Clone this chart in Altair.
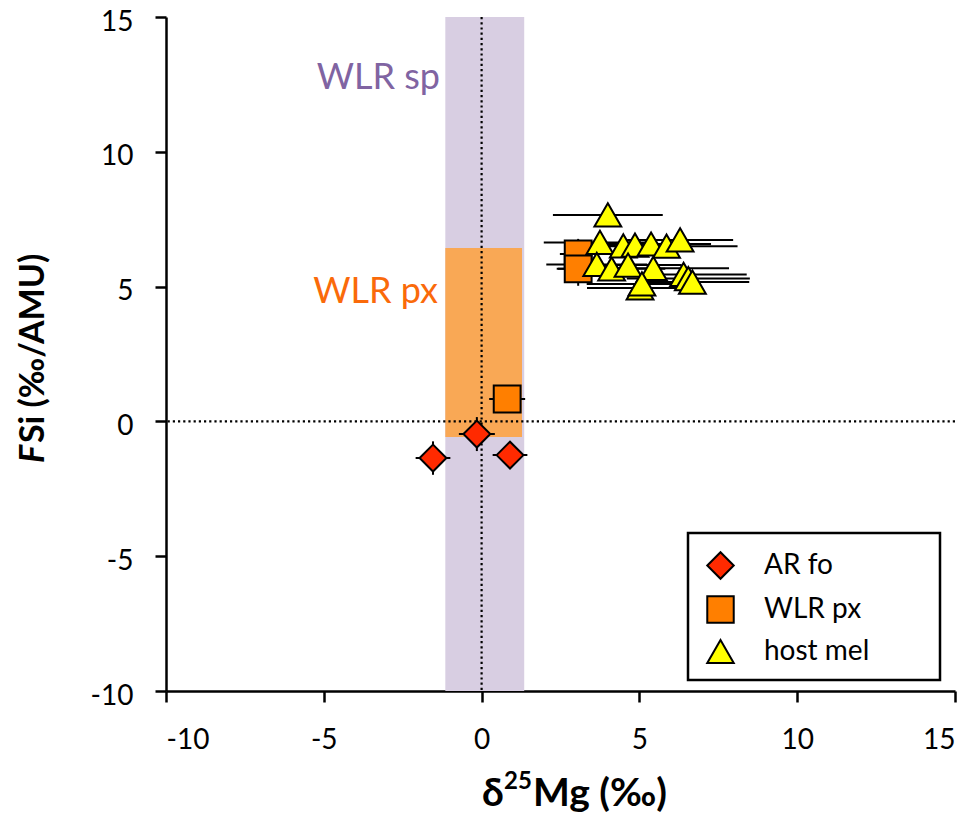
import altair as alt
import pandas as pd

# ---- data ----
series_names = ["AR fo", "WLR px", "host mel"]

ar_x = [-1.54, -0.15, 0.90]
ar_y = [-1.36, -0.47, -1.25]
ar_xerr = [0.55, 0.57, 0.55]
ar_yerr = [0.62, 0.63, 0.35]

px_x = [0.81, 3.06, 3.06]
px_y = [0.83, 6.21, 5.66]
px_xerr = [0.57, 0.58, 0.68]
px_yerr = [0.30, 0.56, 0.63]

mel_x = [4.00, 3.75, 3.65, 4.12, 4.49, 4.86, 4.64, 5.37, 5.86, 6.29, 5.44, 5.02, 5.08, 6.40, 6.55, 6.68]
mel_y = [7.66, 6.64, 5.82, 5.66, 6.51, 6.54, 5.80, 6.58, 6.50, 6.73, 5.68, 4.95, 5.10, 5.45, 5.30, 5.17]
mel_xerr = [1.74, 1.78, 1.60, 1.70, 1.80, 1.75, 1.70, 1.90, 2.25, 1.68, 2.40, 1.68, 1.75, 2.00, 1.95, 1.80]
mel_yerr = [0.35] * 16

band_names = ["WLR sp", "WLR px"]
band_x0 = [-1.15, -1.15]
band_x1 = [1.35, 1.28]
band_y0 = [-10.0, -0.58]
band_y1 = [15.0, 6.43]
band_colors = ["#D8CEE2", "#F9A855"]

label_text = ["WLR sp", "WLR px"]
label_x = [-1.32, -1.38]
label_y = [12.74, 4.80]
label_colors = ["#8064A2", "#FA6A0A"]

marker_shapes = ["diamond", "square", "triangle-up"]
marker_fills = ["#FF2A00", "#FF7F00", "#FFFF00"]
marker_strokes = ["black", "black", "black"]

ticks = [-10, -5, 0, 5, 10, 15]

FONT = "Lato"

# ---- tables ----
rows = []
for name, xs_, ys_, xe, ye in [
    ("AR fo", ar_x, ar_y, ar_xerr, ar_yerr),
    ("WLR px", px_x, px_y, px_xerr, px_yerr),
    ("host mel", mel_x, mel_y, mel_xerr, mel_yerr),
]:
    for i in range(len(xs_)):
        rows.append({"series": name, "x": xs_[i], "y": ys_[i], "xerr": xe[i], "yerr": ye[i], "order": len(rows)})
pts = pd.DataFrame(rows)

bands = pd.DataFrame({"name": band_names, "x0": band_x0, "x1": band_x1,
                      "y0": band_y0, "y1": band_y1, "color": band_colors})
labels = pd.DataFrame({"text": label_text, "x": label_x, "y": label_y, "color": label_colors})
zero = pd.DataFrame({"v": [0]})

xs = alt.Scale(domain=[-10, 15], nice=False, zero=False)
ys = alt.Scale(domain=[-10, 15], nice=False, zero=False)

axis_common = dict(values=ticks, grid=False, domainColor="black", domainWidth=2.5,
                   tickColor="black", tickWidth=2.5, tickSize=11,
                   labelFont=FONT, labelFontSize=28, labelColor="black", title=None,
                   labelExpr="'' + datum.value")

band_layer = alt.Chart(bands).mark_rect().encode(
    x=alt.X("x0:Q", scale=xs, axis=alt.Axis(**axis_common, labelPadding=24)),
    x2="x1:Q",
    y=alt.Y("y0:Q", scale=ys, axis=alt.Axis(**axis_common, labelPadding=22, labelOffset=5)),
    y2="y1:Q",
    color=alt.Color("color:N", scale=None),
)

vline = alt.Chart(zero).mark_rule(color="black", strokeWidth=2.2, strokeDash=[2.2, 3]).encode(
    x=alt.X("v:Q", scale=xs))
hline = alt.Chart(zero).mark_rule(color="black", strokeWidth=2.2, strokeDash=[2.2, 3]).encode(
    y=alt.Y("v:Q", scale=ys))

text_layer = alt.Chart(labels).mark_text(font=FONT, fontSize=36, align="right", baseline="middle").encode(
    x=alt.X("x:Q", scale=xs), y=alt.Y("y:Q", scale=ys), text="text:N",
    color=alt.Color("color:N", scale=None))

legend_box = alt.Chart(zero).mark_rect(fill="white", stroke="black", strokeWidth=2.5).encode(
    x=alt.value(522), x2=alt.value(774), y=alt.value(516), y2=alt.value(663))

base = alt.Chart(pts).transform_calculate(
    xlo="datum.x - datum.xerr", xhi="datum.x + datum.xerr",
    ylo="datum.y - datum.yerr", yhi="datum.y + datum.yerr")

herr = base.mark_rule(color="black", strokeWidth=2).encode(
    x=alt.X("xlo:Q", scale=xs), x2="xhi:Q", y=alt.Y("y:Q", scale=ys))
verr = base.mark_rule(color="black", strokeWidth=2).encode(
    x=alt.X("x:Q", scale=xs), y=alt.Y("ylo:Q", scale=ys), y2="yhi:Q")

leg = alt.Legend(orient="none", legendX=540, legendY=534, title=None,
                 labelFont=FONT, labelFontSize=28, labelColor="black",
                 symbolSize=700, symbolStrokeWidth=2,
                 labelOffset=29, rowPadding=9, padding=0)

points = base.mark_point(filled=True, strokeWidth=2, size=720, opacity=1).encode(
    x=alt.X("x:Q", scale=xs), y=alt.Y("y:Q", scale=ys),
    shape=alt.Shape("series:N", scale=alt.Scale(domain=series_names, range=marker_shapes),
                    sort=series_names, legend=leg),
    fill=alt.Fill("series:N", scale=alt.Scale(domain=series_names, range=marker_fills),
                  sort=series_names, legend=leg),
    stroke=alt.Stroke("series:N", scale=alt.Scale(domain=series_names, range=marker_strokes),
                      sort=series_names, legend=leg),
    order=alt.Order("order:Q"),
)

# axis titles as text so that parts can be styled (italic F, superscript 25)
ytitle_F = alt.Chart(zero).mark_text(text="F", font=FONT, fontSize=34, fontWeight="bold",
                                     fontStyle="italic", angle=270, align="left", baseline="middle",
                                     color="black").encode(x=alt.value(-132), y=alt.value(446))
ytitle_rest = alt.Chart(zero).mark_text(text="Si (‰/AMU)", font=FONT, fontSize=34, fontWeight="bold",
                                        angle=270, align="left", baseline="middle",
                                        color="black").encode(x=alt.value(-132), y=alt.value(426))
xtitle_d = alt.Chart(zero).mark_text(text="δ", font=FONT, fontSize=39, fontWeight="bold",
                                     align="left", baseline="alphabetic", color="black").encode(
    x=alt.value(316), y=alt.value(789))
xtitle_sup = alt.Chart(zero).mark_text(text="25", font=FONT, fontSize=24, fontWeight="bold",
                                       align="left", baseline="alphabetic", color="black").encode(
    x=alt.value(338), y=alt.value(772))
xtitle_rest = alt.Chart(zero).mark_text(text="Mg (‰)", font=FONT, fontSize=39, fontWeight="bold",
                                        align="left", baseline="alphabetic", color="black").encode(
    x=alt.value(367), y=alt.value(789))

chart = alt.layer(
    band_layer, vline, hline, text_layer, legend_box, herr, verr, points,
    ytitle_F, ytitle_rest, xtitle_d, xtitle_sup, xtitle_rest,
).properties(
    width=789, height=674,
    autosize="none",
    padding={"left": 158, "top": 9, "right": 12, "bottom": 126},
).configure_view(stroke=None)

chart.save("out.html", embed_options={"renderer": "svg", "actions": False})
